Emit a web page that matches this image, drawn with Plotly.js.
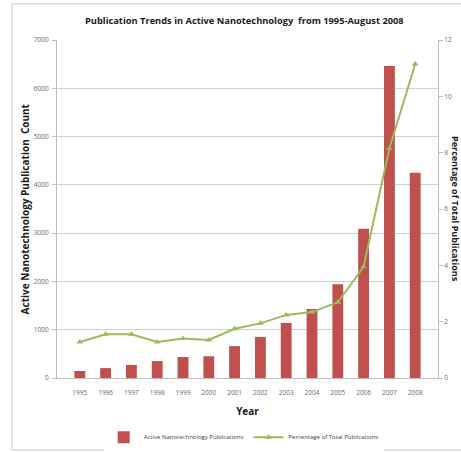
<!DOCTYPE html>
<html>
<head>
<meta charset="utf-8">
<script src="https://cdn.plot.ly/plotly-3.0.1.min.js"></script>
<style>
  html, body { margin: 0; padding: 0; background: #ffffff; }
  #chart { width: 461px; height: 452px; }
</style>
</head>
<body>
<div id="chart"></div>
<script>
// Active nanotechnology publications per year and their share of all publications
const years = ['1995', '1996', '1997', '1998', '1999', '2000', '2001',
               '2002', '2003', '2004', '2005', '2006', '2007', '2008'];
const publicationCounts = [145, 205, 270, 350, 435, 450, 660,
                           850, 1140, 1430, 1940, 3090, 6460, 4250];
const percentOfTotal = [1.28, 1.55, 1.55, 1.28, 1.40, 1.35, 1.75,
                        1.94, 2.24, 2.34, 2.69, 3.95, 8.15, 11.15];
const leftTicks = [0, 1000, 2000, 3000, 4000, 5000, 6000, 7000];
const rightTicks = [0, 2, 4, 6, 8, 10, 12];

const FONT = '"Open Sans", "Liberation Sans", sans-serif';
const TICK_FONT = { family: FONT, size: 6.5, color: '#6a6a6a' };

const bars = {
  type: 'bar',
  name: 'Active Nanotechnology Publications',
  x: years,
  y: publicationCounts,
  marker: { color: '#C0504D' },
  yaxis: 'y'
};

const share = {
  type: 'scatter',
  mode: 'lines+markers',
  name: 'Percentage of Total Publications',
  x: years,
  y: percentOfTotal,
  line: { color: '#9BBB59', width: 2 },
  marker: { symbol: 'triangle-up', size: 6, color: '#9BBB59' },
  yaxis: 'y2'
};

const layout = {
  width: 461,
  height: 452,
  margin: { l: 57, r: 23, t: 40, b: 74, autoexpand: false },
  paper_bgcolor: '#ffffff',
  plot_bgcolor: '#ffffff',
  bargap: 0.58,
  showlegend: true,
  font: { family: FONT, color: '#404040' },
  title: {
    text: 'Publication Trends in Active Nanotechnology  from 1995-August 2008',
    font: { family: FONT, size: 9.3, color: '#1a1a1a', weight: 'bold' },
    x: 0.53, xanchor: 'center',
    y: 0.955, yanchor: 'middle'
  },
  xaxis: {
    type: 'category',
    automargin: false,
    tickfont: TICK_FONT,
    showgrid: false,
    showline: true,
    linecolor: '#bfbfbf',
    ticks: '',
    ticklabelstandoff: 8,
    title: {
      text: 'Year',
      font: { family: FONT, size: 10, color: '#1a1a1a', weight: 'bold' },
      standoff: 12
    }
  },
  yaxis: {
    range: [0, 7000],
    automargin: false,
    tickvals: leftTicks,
    tickfont: TICK_FONT,
    showgrid: true,
    gridcolor: '#cfcfcf',
    gridwidth: 1,
    showline: true,
    linecolor: '#bfbfbf',
    zeroline: false,
    ticks: 'outside',
    ticklen: 4,
    tickcolor: '#bfbfbf',
    ticklabelstandoff: 2
  },
  yaxis2: {
    overlaying: 'y',
    side: 'right',
    automargin: false,
    range: [0, 12],
    tickvals: rightTicks,
    tickfont: TICK_FONT,
    showgrid: false,
    showline: true,
    linecolor: '#bfbfbf',
    zeroline: false,
    ticks: 'outside',
    ticklen: 4,
    tickcolor: '#bfbfbf'
  },
  legend: {
    orientation: 'h',
    x: 0.49, xanchor: 'center',
    y: -0.175, yanchor: 'middle',
    font: { family: FONT, size: 6, color: '#404040' },
    itemwidth: 30,
    tracegroupgap: 0
  },
  annotations: [
    {
      text: 'Active Nanotechnology Publication  Count',
      xref: 'paper', yref: 'paper',
      x: -0.083, y: 0.5,
      xanchor: 'center', yanchor: 'middle',
      textangle: -90,
      showarrow: false,
      font: { family: FONT, size: 10, color: '#1a1a1a', weight: 'bold' }
    },
    {
      text: 'Percentage of Total Publications',
      xref: 'paper', yref: 'paper',
      x: 1.047, y: 0.5,
      xanchor: 'center', yanchor: 'middle',
      textangle: 90,
      showarrow: false,
      font: { family: FONT, size: 9, color: '#1a1a1a', weight: 'bold' }
    }
  ],
  shapes: [
    {
      type: 'rect',
      xref: 'paper', yref: 'paper',
      x0: -0.118, x1: 1.2,
      y0: -0.213, y1: 1.107,
      line: { color: '#c8c8c8', width: 1 },
      fillcolor: 'rgba(0,0,0,0)',
      layer: 'below'
    }
  ]
};

Plotly.newPlot('chart', [bars, share], layout, { displayModeBar: false, responsive: false });
</script>
</body>
</html>
